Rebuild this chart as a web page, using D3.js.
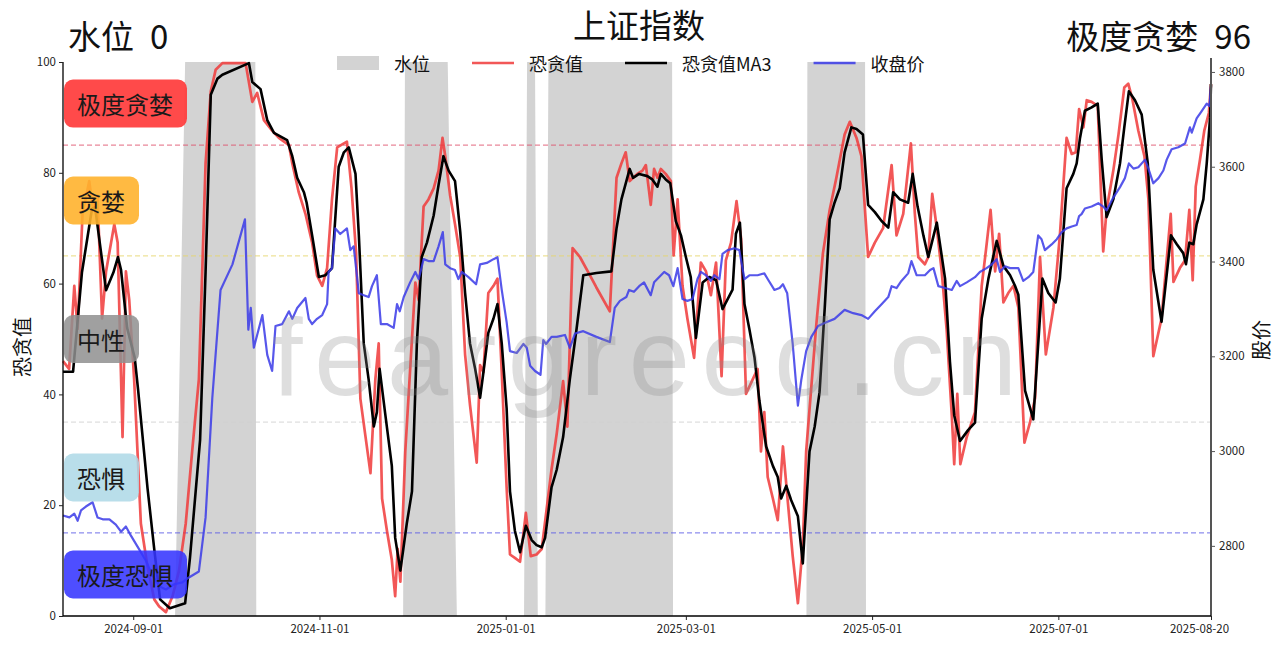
<!DOCTYPE html>
<html><head><meta charset="utf-8">
<script src="https://cdn.jsdelivr.net/npm/d3@7"></script>
<style>body{margin:0;background:#fff;} svg{display:block;}</style>
</head><body><svg id="chart" width="1280" height="645"></svg>
<script>
// ---------- data ----------
const titleText = "上证指数";
const waterNow = 0;
const fgNowLabel = "极度贪婪";
const fgNow = 96;
const startDate = "2024-08-09";   // day 0
const endDate = "2025-08-20";
const xTickDates = ["2024-09-01","2024-11-01","2025-01-01","2025-03-01","2025-05-01","2025-07-01","2025-08-20"];
const leftTicks = [0,20,40,60,80,100];
const rightTicks = [2800,3000,3200,3400,3600,3800];
const legendNames = ["水位","恐贪值","恐贪值MA3","收盘价"];
const zoneNames = ["极度贪婪","贪婪","中性","恐惧","极度恐惧"];
const zoneCenters = [92.5,75,50,25,7.5];
const thresholds = [85,65,35,15];
// [day offset from startDate, value]
const fearGreed = [[0,46],[2,44.6],[3.7,59.6],[4.8,51.8],[6.4,72.6],[8.6,78.5],[9.7,73.9],[11.3,75.9],[12.8,53.7],[14.1,62.2],[16.8,70.7],[17.9,67.4],[19.5,32.3],[20.6,62.2],[21.7,57],[23.3,42.7],[25.5,16.7],[27.7,8.8],[29.9,3],[31.5,1.7],[33.7,0.7],[35.9,3.6],[38,8.2],[40.2,16.7],[42.3,29.7],[44.5,42.7],[46.7,81.7],[48.4,94.7],[50,98.6],[52.2,99.8],[59.8,99.8],[62,92.8],[63.6,94.4],[65.8,89.5],[68.5,87.6],[70.7,86.3],[74,85],[75.1,81.7],[77.2,76.5],[79.4,72.6],[81.6,67.4],[83.2,61.5],[84.9,59.6],[86.5,62.8],[88.1,75.2],[89.8,84.6],[92,85.3],[93,85.6],[94.5,77.2],[96,65.5],[97.4,39.2],[99,32.7],[100.7,25.8],[102.3,42.7],[103.4,49.2],[104.5,21.2],[106.1,15.4],[107.7,10.1],[108.8,3.6],[109.6,12.1],[110.5,6.2],[112.1,29.7],[115.4,60.2],[116.5,57],[118.1,73.9],[119.7,75.2],[121.4,77.2],[123,80.4],[124.3,86.3],[125.2,83],[126.8,75.9],[128.4,70.7],[130.1,64.8],[131.7,47.2],[133.3,38.1],[135.5,27.7],[136.6,45.3],[137.7,44],[139.3,58.3],[141,59.6],[142.3,60.9],[143.7,44],[145.3,23.2],[146.4,11.1],[148,10.5],[149.7,9.8],[151.6,18.6],[153.2,10.8],[155.1,11.1],[156.8,12.1],[158.4,19.3],[160,26.4],[161.7,32.9],[163.8,42.4],[165.2,34.2],[166.9,66.4],[169.3,64.8],[172.6,61.5],[174.7,59.3],[179.1,55],[181.3,79.1],[182.9,81.7],[184.3,83.7],[185.6,78.5],[186.7,79.1],[188.1,79.8],[189.8,80.4],[190.9,81.4],[192.5,74.2],[193.6,80.7],[194.7,79.1],[195.8,80.7],[197.4,79.8],[199.1,78.5],[200,65.1],[201.3,75.2],[202.9,59.6],[204.5,53.7],[206.7,46.6],[208.9,63.8],[210.6,62.2],[212.2,57.9],[213.9,63.8],[215.7,43.3],[217.1,64.2],[218.8,67.4],[220.6,74.9],[222.1,68.1],[223.7,40.1],[225.9,42.7],[227.5,44.6],[228.6,29.7],[229.7,36.8],[230.8,25.1],[232.5,21.2],[234.1,17.3],[235.8,30.6],[237.4,20.6],[239,10.8],[240.7,2.3],[242.3,12.8],[243.4,29.7],[245.1,41.4],[246.7,52.4],[248.9,65.5],[251.1,73.3],[253.3,79.1],[256,86.9],[257.7,89.2],[259.9,86.3],[261.5,83],[263.7,64.8],[265.9,67.4],[268.6,70],[271.4,81.4],[273,68.7],[275.2,72.6],[277.7,85.3],[279,72.6],[280.1,64.8],[282.3,63.5],[283.4,64.8],[284.7,76.2],[286.2,70],[287.8,62.2],[289.4,51.8],[291.1,36.2],[291.9,27.4],[292.9,40.1],[293.9,27.4],[296,32.3],[298.7,36.8],[300.9,59.6],[302.3,66.1],[303.8,73.3],[305.3,62.2],[306.6,69],[308,56.6],[309.6,58.3],[311.3,59.6],[312.9,55.7],[314.9,31.3],[316.7,34.9],[318.4,39.4],[320,64.8],[321.9,47.2],[324.4,55.7],[326.5,68.7],[328.7,86.3],[330.4,83.4],[331.7,83.7],[332.8,91.5],[334.2,88.2],[335.3,93.1],[336.9,92.8],[338.9,92.1],[340.7,65.8],[341.8,73.3],[344,80.4],[345.7,86.9],[347.6,95.4],[348.9,96.1],[350.2,93.4],[352.2,87.6],[354.2,83],[355.5,75.2],[357.1,46.9],[359.8,53.7],[362.8,72.6],[363.7,60.3],[365.8,62.8],[367.5,64.2],[368.9,73.3],[370,60.6],[371,77.5],[372.4,82.4],[373.8,87.6],[375.3,90.8],[376,96]];
const fearGreedMA3 = [[0,44.1],[3.3,44.1],[6.2,62],[8.2,69],[9.5,73.5],[10.5,73.8],[14.1,58.8],[16.5,62],[18,64.8],[19,62.5],[21,52],[23.5,46.6],[24.6,40.8],[27.7,23],[29.9,12],[31.8,3],[35,1.4],[40,2.3],[41.6,10.6],[44.9,31.8],[46.7,62.2],[48.4,94.1],[50.6,97],[52.2,97.7],[60.9,99.8],[62,96.4],[64.7,95.1],[66.9,89.5],[69.1,87.2],[73.4,85.9],[75.1,83],[76.7,79.1],[78.9,76.5],[79.8,74.6],[81.6,68.7],[83.8,61.2],[85.9,61.5],[88.1,62.8],[90.3,81.1],[92,83.7],[93.6,84.6],[95.8,79.8],[96.9,68.7],[98.5,49.2],[100.1,42.7],[101.8,34.2],[102.8,36.8],[103.7,44.6],[105.6,36.2],[107.7,27.1],[108.8,14.1],[110.5,8.2],[112.6,16.7],[114.3,22.5],[115.9,49.2],[117.5,64.8],[119.2,67.4],[121.4,72.3],[123,77.8],[124.6,83],[126.3,80.4],[128.4,78.5],[130.1,69.4],[131.7,58.3],[133.3,49.2],[135,44.6],[136.6,39.4],[137.7,44],[139.3,51.1],[141,53.7],[142.3,56.3],[143.7,49.2],[145.3,37.5],[146.4,22.5],[148,15.4],[149.7,11.5],[151.6,16.3],[153.5,13.7],[155.1,12.8],[156.8,12.4],[157.9,14.1],[160,23.2],[161.7,26.4],[163.8,32.3],[166,42.7],[168.2,51.8],[170.4,61.5],[174.7,61.9],[179.6,62.2],[181.3,70],[182.9,75.2],[185.6,80.7],[186.7,79.1],[188.7,79.8],[191.4,79.4],[193,78.8],[194.7,77.5],[195.8,79.8],[197.4,78.8],[198.9,78.1],[200.7,71.3],[202.4,68.7],[204,64.8],[205.6,61.2],[207.3,50.2],[209.5,60.2],[211.7,61.2],[213.9,60.6],[216,55.4],[219.3,58.9],[220.4,69],[221.7,71],[223.2,56.3],[224.8,51.8],[226.5,46.6],[228.1,38.8],[230.3,30.6],[232.5,27.1],[234.1,25.1],[235.2,21.2],[236.9,23.5],[238.5,20.9],[240.7,18],[242.3,9.5],[244.5,29.7],[246.2,34.2],[247.8,40.4],[249.5,55.7],[251.1,71.6],[252.7,74.6],[254.4,77.2],[256,83.7],[258.2,88.2],[259.9,87.9],[262,86.9],[263.7,74.2],[265.9,72.9],[268.1,71.3],[270.3,70.1],[271.9,76.5],[274.1,75.2],[276.8,74.6],[278.3,79.8],[279.9,73.9],[281.8,68.7],[283.4,64.8],[286.2,71],[288.9,60.9],[290.5,45.9],[291.9,36.2],[293.8,31.6],[296.5,33.6],[298.7,34.9],[300.9,53.7],[303.1,60.9],[305.8,67.7],[308,63.2],[310.2,61.5],[311.8,59.6],[312.9,58],[315.1,40.7],[317.8,35.5],[320.8,60.9],[322.7,58.3],[325.1,56.6],[326.5,60.9],[328.7,77.2],[330.9,79.8],[332,81.7],[333.1,86.3],[334.7,91.2],[336.9,91.8],[338.9,92.5],[340.2,82.4],[341.8,72],[344,75.2],[346.2,81.7],[347.6,88.2],[349.1,94.7],[351.1,93.1],[353.3,90.5],[355.3,81.7],[357.1,62.5],[359.8,53.1],[362.9,68.7],[364.8,67.1],[366.9,65.5],[367.8,63.5],[368.9,67.4],[370.2,67.1],[371.3,70.7],[373.5,75.2],[374.6,81.7],[375.7,90],[376,96]];
const closePrice = [[0,2864],[2.1,2860],[3.7,2868],[4.8,2853],[5.9,2875],[7.5,2883],[9.7,2892],[11.3,2860],[13,2856],[15.2,2856],[17.3,2845],[19,2830],[20.6,2841],[22.2,2822],[25,2792],[27.1,2769],[29.3,2738],[31.5,2715],[33.7,2708],[36.4,2719],[39.1,2723],[40.7,2731],[44.5,2746],[46.7,2860],[48.9,3112],[51.6,3340],[55.5,3394],[59.6,3489],[60.7,3256],[61.5,3302],[62.5,3218],[65.3,3287],[66.9,3203],[68.5,3169],[69.6,3264],[71.8,3268],[74,3295],[75.1,3279],[76.7,3302],[79.4,3323],[80.5,3279],[81.6,3268],[83.2,3279],[84.9,3287],[86.5,3310],[87,3378],[88.1,3386],[89.2,3470],[90.8,3458],[93,3470],[94.1,3424],[95.2,3432],[96.9,3333],[98.5,3329],[100.1,3325],[101.2,3348],[102.8,3371],[104.1,3268],[106.1,3268],[108.3,3260],[109.4,3310],[110.3,3295],[111.6,3325],[113.7,3356],[115.4,3378],[116.5,3363],[118.1,3405],[119.7,3401],[121.4,3401],[123,3432],[124.4,3462],[125.2,3394],[126.8,3386],[128.4,3382],[129.5,3363],[130.6,3378],[132.8,3367],[135.3,3352],[136.6,3394],[138.8,3397],[141,3405],[142.3,3409],[143.7,3340],[145.3,3272],[146.4,3211],[148.6,3207],[150.8,3226],[151.9,3218],[153,3180],[154.6,3169],[156.4,3161],[157.3,3234],[158.2,3226],[160,3241],[161.7,3241],[164.4,3245],[166,3218],[167.7,3248],[170.4,3253],[174.7,3241],[179.1,3230],[180.7,3302],[182.4,3317],[184.5,3325],[185.4,3340],[187,3336],[188.7,3348],[190.3,3356],[192.5,3329],[193.6,3356],[195.2,3367],[196.9,3378],[198.5,3371],[199.9,3348],[201.3,3386],[202.9,3321],[204.5,3317],[206.2,3321],[207.8,3363],[208.9,3378],[210.6,3371],[212.2,3359],[213.3,3371],[215,3363],[216,3416],[217.7,3424],[219.9,3428],[221.5,3424],[223.2,3363],[224.8,3371],[227.5,3371],[229.7,3375],[230.8,3363],[233,3340],[234.7,3344],[235.8,3352],[237.2,3333],[239,3226],[240.7,3096],[241.8,3150],[243.4,3211],[245.1,3241],[247.3,3264],[250,3272],[252.7,3279],[256,3298],[258.8,3291],[261.5,3287],[263.7,3279],[265.9,3295],[268.1,3310],[270.3,3325],[271.4,3348],[273,3344],[274.6,3359],[276.8,3375],[277.9,3401],[279.6,3371],[282.3,3371],[284,3382],[285.1,3386],[286.7,3348],[288.9,3344],[291.1,3340],[292.7,3359],[293.8,3348],[296,3356],[298.7,3367],[300.3,3378],[302.5,3386],[304.2,3394],[305.8,3405],[306.9,3378],[308.5,3390],[310.2,3386],[312.9,3386],[314.5,3359],[316.2,3367],[317.8,3378],[319.4,3455],[320.5,3447],[321.6,3424],[323.8,3436],[325.5,3447],[327.1,3462],[328.7,3470],[330.4,3474],[332,3477],[332.8,3496],[333.6,3500],[334.7,3512],[336.9,3516],[339.1,3523],[340.7,3516],[341.8,3508],[344,3535],[346.2,3557],[347.8,3576],[349.1,3607],[350.6,3596],[352.2,3599],[354.4,3615],[355.5,3596],[357.1,3565],[358.8,3576],[360.4,3592],[361.5,3615],[363.1,3637],[365.3,3641],[367.5,3649],[369.1,3683],[369.7,3672],[371.3,3702],[372.9,3717],[374.6,3733],[375.5,3728],[376,3770]];
const waterLevel = [[0,0],[36.7,0],[40,100],[63,100],[63.3,0],[111.4,0],[112,100],[126,100],[129,0],[151,0],[152,100],[154.6,100],[155.5,0],[158,0],[159,100],[199.5,100],[199.8,0],[243.5,0],[243.8,100],[262.7,100],[263,0],[376,0]];

// ---------- styles ----------
const FONT = "'Noto Sans CJK SC','Noto Sans',sans-serif";
const zoneFill = ["#ff3b3b","#ffb22e","#8f8f8f","#add8e6","#3535ff"];
const zoneOpacity = [0.92,0.9,0.85,0.85,0.88];
const thresholdColor = ["#e0506a","#e6d66a","#d0d0d0","#5a5ae6"];
const seriesColor = {water:"#d3d3d3", fg:"#f03a3a", ma:"#000000", close:"#3a3ae8"};

const svg = d3.select("#chart");
const L = 63, R = 1211, T = 62, B = 616;
const t0 = d3.timeParse("%Y-%m-%d")(startDate);
const t1 = d3.timeParse("%Y-%m-%d")(endDate);
const toDate = d => new Date(t0.getTime() + d * 864e5);
const x = d3.scaleTime().domain([t0, t1]).range([L, R]);
const y = d3.scaleLinear().domain([0, 100]).range([B, T]);
const y2 = d3.scaleLinear().domain([2652, 3821]).range([B, T]);

svg.append("rect").attr("width",1280).attr("height",645).attr("fill","#fff");

const plot = svg.append("g");
plot.append("clipPath").attr("id","clip").append("rect")
  .attr("x",L).attr("y",T).attr("width",R-L).attr("height",B-T);

// water level area
plot.append("path").datum(waterLevel)
  .attr("clip-path","url(#clip)")
  .attr("fill", seriesColor.water)
  .attr("d", d3.area().x(d => x(toDate(d[0]))).y0(y(0)).y1(d => y(d[1])));

// watermark
svg.append("text").text("feargreed.cn")
  .attr("x", 272).attr("y", 395)
  .attr("textLength", 745).attr("lengthAdjust","spacing")
  .attr("font-family","'Liberation Sans',Arial,sans-serif").attr("font-size",110)
  .attr("fill","#8a8a8a").attr("opacity",0.28);

// threshold lines
plot.selectAll(".th").data(thresholds).enter().append("line")
  .attr("x1",L).attr("x2",R).attr("y1",d=>y(d)).attr("y2",d=>y(d))
  .attr("stroke",(d,i)=>thresholdColor[i]).attr("stroke-width",1)
  .attr("stroke-dasharray","5,3").attr("opacity",0.85);

const line1 = d3.line().x(d => x(toDate(d[0]))).y(d => y(d[1]));
const line2 = d3.line().x(d => x(toDate(d[0]))).y(d => y2(d[1]));

plot.append("path").datum(fearGreed).attr("fill","none")
  .attr("stroke",seriesColor.fg).attr("stroke-width",2.7).attr("opacity",0.85)
  .attr("stroke-linejoin","round").attr("d",line1);
plot.append("path").datum(fearGreedMA3).attr("fill","none")
  .attr("stroke",seriesColor.ma).attr("stroke-width",2.6)
  .attr("stroke-linejoin","round").attr("d",line1);
plot.append("path").datum(closePrice).attr("fill","none")
  .attr("stroke",seriesColor.close).attr("stroke-width",2.2).attr("opacity",0.85)
  .attr("stroke-linejoin","round").attr("d",line2);

// axes
const axL = svg.append("g").attr("transform",`translate(${L},0)`)
  .call(d3.axisLeft(y).tickValues(leftTicks).tickSize(4).tickSizeOuter(0).tickPadding(3));
const axR = svg.append("g").attr("transform",`translate(${R},0)`)
  .call(d3.axisRight(y2).tickValues(rightTicks).tickFormat(d3.format("d")).tickSize(4).tickSizeOuter(0).tickPadding(4));
const axB = svg.append("g").attr("transform",`translate(0,${B})`)
  .call(d3.axisBottom(x).tickValues(xTickDates.map(s=>d3.timeParse("%Y-%m-%d")(s)))
        .tickFormat(d3.timeFormat("%Y-%m-%d")).tickSize(4).tickSizeOuter(0).tickPadding(5));
[axL,axR,axB].forEach(a=>{
  a.selectAll("text").attr("font-family",FONT).attr("font-size",11.5).attr("fill","#222");
  a.selectAll("line").attr("stroke","#222");
});
axL.select(".domain").attr("d",`M0,${T}V${B}`).attr("stroke","#000").attr("stroke-width",1.3);
axR.select(".domain").attr("d",`M0,${T-4}V${B}`).attr("stroke","#555").attr("stroke-width",2);
axR.selectAll("line").attr("stroke","#555");
axB.select(".domain").attr("d",`M${L},0H${R}`).attr("stroke","#000").attr("stroke-width",1.3);
axB.selectAll(".tick text").filter((d,i,n)=>i===n.length-1).attr("dx",-12);

// axis titles
svg.append("text").text("恐贪值").attr("transform","translate(30,347) rotate(-90)")
  .attr("text-anchor","middle").attr("font-family",FONT).attr("font-size",20).attr("fill","#111");
svg.append("text").text("股价").attr("transform","translate(1269,340) rotate(-90)")
  .attr("text-anchor","middle").attr("font-family",FONT).attr("font-size",20).attr("fill","#111");

// zone labels
const zg = svg.append("g");
zoneNames.forEach((name,i)=>{
  const g = zg.append("g");
  const cy = y(zoneCenters[i]);
  const t = g.append("text").text(name).attr("x",77).attr("y",cy)
    .attr("dominant-baseline","central").attr("font-family",FONT).attr("font-size",24).attr("fill","#1a1a1a");
  const w = t.node().getComputedTextLength();
  g.insert("rect","text").attr("x",64).attr("y",cy-24).attr("width",w+27).attr("height",48)
    .attr("rx",9).attr("fill",zoneFill[i]).attr("opacity",zoneOpacity[i]);
});

// titles
svg.append("text").text(titleText).attr("x",639).attr("y",38).attr("text-anchor","middle")
  .attr("font-family",FONT).attr("font-size",33).attr("fill","#111");
const tl = svg.append("text").attr("x",68).attr("y",49)
  .attr("font-family",FONT).attr("font-size",33).attr("fill","#111");
tl.append("tspan").text("水位");
tl.append("tspan").attr("dx",16).text(String(waterNow));
const tr = svg.append("text").attr("x",1251).attr("y",49).attr("text-anchor","end")
  .attr("font-family",FONT).attr("font-size",33).attr("fill","#111");
tr.append("tspan").text(fgNowLabel);
tr.append("tspan").attr("dx",16).text(String(fgNow));

// legend
const lg = svg.append("g");
let lx = 337; const ly = 63;
legendNames.forEach((name,i)=>{
  if (i===0) {
    lg.append("rect").attr("x",lx).attr("y",ly-7).attr("width",42).attr("height",14).attr("fill",seriesColor.water);
  } else {
    const c = [null, seriesColor.fg, seriesColor.ma, seriesColor.close][i];
    lg.append("line").attr("x1",lx).attr("x2",lx+42).attr("y1",ly).attr("y2",ly)
      .attr("stroke",c).attr("stroke-width",2.6).attr("opacity", i===2?1:0.85);
  }
  const t = lg.append("text").text(name).attr("x",lx+57).attr("y",ly).attr("dominant-baseline","central")
    .attr("font-family",FONT).attr("font-size",18).attr("fill","#111");
  lx = lx + 57 + t.node().getComputedTextLength() + 42;
});
</script></body></html>
